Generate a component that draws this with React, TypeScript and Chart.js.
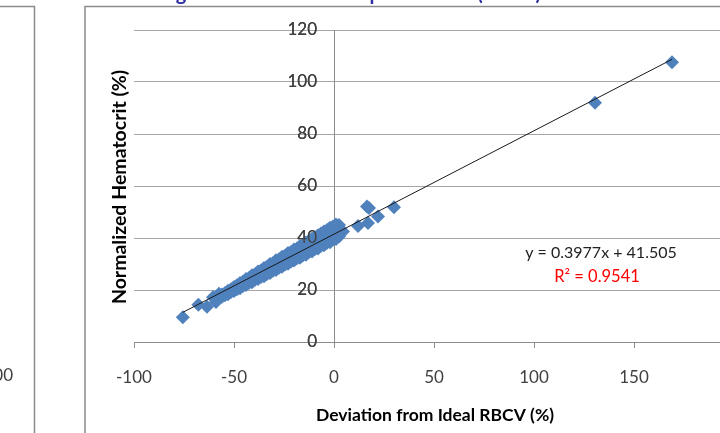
import React, { useEffect, useRef } from 'react';
import { Chart, registerables } from 'chart.js';

Chart.register(...registerables);

// ---- data ----
const xMin = -100;
const xMax = 200;
const xStep = 50;
const yMin = 0;
const yMax = 120;
const yStep = 20;

// dense band of observations
const bandX = [
  -56, -56, -53, -53, -53, -50, -50, -50, -47, -47, -47, -44, -44, -44,
  -41, -41, -41, -38, -38, -38, -35, -35, -35, -32, -32, -32, -29, -29, -29,
  -26, -26, -26, -23, -23, -23, -20, -20, -20, -17, -17, -17, -14, -14, -14,
  -11, -11, -11, -8, -8, -8, -5, -5, -5, -2, -2, -2, 1, 1, 1,
  -54.5, -54.5, -51.5, -51.5, -48.5, -48.5, -45.5, -45.5, -42.5, -42.5,
  -39.5, -39.5, -36.5, -36.5, -33.5, -33.5, -30.5, -30.5, -27.5, -27.5,
  -24.5, -24.5, -21.5, -21.5, -18.5, -18.5, -15.5, -15.5, -12.5, -12.5,
  -9.5, -9.5, -6.5, -6.5, -3.5, -3.5, -0.5, -0.5, 2.5, 2.5,
];
const bandY = [
  17.4, 18.3, 18.4, 19.1, 19.7, 19.6, 20.4, 21.2, 20.7, 21.8, 22.7, 21.9, 23.1, 24.2,
  23.0, 24.4, 25.7, 24.2, 25.7, 27.1, 25.3, 26.9, 28.5, 26.5, 28.2, 30.0, 27.7, 29.5, 31.4,
  28.9, 30.7, 32.8, 30.1, 32.0, 34.2, 31.3, 33.4, 35.6, 32.4, 34.6, 36.9, 33.6, 35.9, 38.3,
  34.8, 37.2, 39.7, 36.0, 38.4, 41.1, 37.2, 39.8, 42.5, 38.4, 41.1, 43.9, 39.6, 42.4, 45.2,
  18.0, 18.8, 19.2, 20.3, 20.3, 21.8, 21.5, 23.2, 22.7, 24.6,
  23.9, 26.1, 25.0, 27.5, 26.2, 28.9, 27.4, 30.3, 28.6, 31.8,
  29.8, 33.2, 31.0, 34.6, 32.2, 36.0, 33.4, 37.4, 34.6, 38.9,
  35.8, 40.3, 37.0, 41.7, 38.2, 43.1, 39.4, 44.4, 40.6, 45.0,
];

// isolated observations
const outlierX = [-75.6, -67.8, -63.5, -60.5, -59, -57.5, 4.5, 12, 17, 16.5, 17.5, 22, 30, 130.5, 169];
const outlierY = [9.5, 14.3, 13.6, 17.2, 15.4, 18.6, 42.5, 44.6, 45.8, 52.1, 51.5, 48.3, 51.8, 92.0, 107.6];

// linear trendline end points
const trendX = [-75.6, 169];
const trendY = [11.4, 108.7];

const equationText = 'y = 0.3977x + 41.505';
const r2Text = 'R\u00b2 = 0.9541';
const xTitle = 'Deviation from Ideal RBCV (%)';
const yTitle = 'Normalized Hematocrit (%)';
const chartTitle = 'Hematocrit Scaling to Ideal RBCV: Group Estimates (Males)';
const leftPanelTick = '200';

const MARKER = '#4F81BD';
const GRID = '#a6a6a6';
const AXIS = '#8c8c8c';
const TEXT = '#404040';
const FONT = 'Lato';

const decorPlugin = {
  id: 'decor',
  afterDatasetsDraw(chart: any) {
    // Excel paints the value-axis labels above the markers
    const y = chart.scales.y;
    if (y && typeof y.drawLabels === 'function') y.drawLabels(chart.chartArea);
  },
  afterDraw(chart: any) {
    const ctx = chart.ctx as CanvasRenderingContext2D;
    ctx.save();
    // frames of the chart objects
    ctx.strokeStyle = '#8a8a8a';
    ctx.lineWidth = 1.5;
    ctx.beginPath();
    ctx.moveTo(0, 6.5);
    ctx.lineTo(34.5, 6.5);
    ctx.lineTo(34.5, 433);
    ctx.stroke();
    ctx.beginPath();
    ctx.moveTo(85, 433);
    ctx.lineTo(85, 6.5);
    ctx.lineTo(760, 6.5);
    ctx.stroke();

    // partial title (cut at the top)
    ctx.fillStyle = '#2E2E9E';
    ctx.font = `bold 20px ${FONT}`;
    ctx.textBaseline = 'alphabetic';
    ctx.textAlign = 'left';
    const prefixW = ctx.measureText('Hematocrit Scalin').width;
    const gW = ctx.measureText('g').width;
    ctx.fillText(chartTitle, 181 - prefixW - gW / 2, -0.5);

    // left panel tick label (cut)
    ctx.fillStyle = TEXT;
    ctx.font = `17px ${FONT}`;
    ctx.textAlign = 'right';
    ctx.textBaseline = 'middle';
    ctx.fillText(leftPanelTick, 13, 376);

    // axis titles
    ctx.fillStyle = '#000';
    ctx.textAlign = 'center';
    ctx.font = `bold 17.5px ${FONT}`;
    ctx.fillText(xTitle, 435, 415);
    ctx.save();
    ctx.translate(120, 187);
    ctx.rotate(-Math.PI / 2);
    ctx.font = `bold 19.5px ${FONT}`;
    ctx.fillText(yTitle, 0, 0);
    ctx.restore();

    // trendline label
    ctx.font = `16px ${FONT}`;
    ctx.fillStyle = '#222';
    ctx.fillText(equationText, 601, 253);
    ctx.fillStyle = '#FF0000';
    ctx.font = `16.5px ${FONT}`;
    ctx.fillText(r2Text, 597, 277);
    ctx.restore();
  },
};

export default function App() {
  const ref = useRef<HTMLCanvasElement>(null);

  useEffect(() => {
    document.body.style.margin = '0';
    const canvas = ref.current;
    if (!canvas) return;
    const points = [
      ...bandX.map((x, i) => ({ x, y: bandY[i] })),
      ...outlierX.map((x, i) => ({ x, y: outlierY[i] })),
    ];
    const trend = trendX.map((x, i) => ({ x, y: trendY[i] }));
    const chart = new Chart(canvas, {
      type: 'scatter',
      data: {
        datasets: [
          {
            type: 'line',
            data: trend,
            borderColor: '#1a1a1a',
            borderWidth: 1,
            pointRadius: 0,
            fill: false,
          } as any,
          {
            data: points,
            pointStyle: 'rectRot',
            pointRadius: 7,
            backgroundColor: MARKER,
            borderColor: MARKER,
            borderWidth: 0,
          },
        ],
      },
      options: {
        animation: false,
        responsive: false,
        devicePixelRatio: 1,
        layout: { padding: { left: 134, right: 26, top: 30, bottom: 0 } },
        plugins: { legend: { display: false }, tooltip: { enabled: false } },
        scales: {
          x: {
            type: 'linear',
            position: 'bottom',
            min: xMin,
            max: xMax,
            ticks: {
              stepSize: xStep,
              color: TEXT,
              font: { family: FONT, size: 17 },
              padding: 19,
              maxRotation: 0,
            },
            grid: { drawOnChartArea: false, drawTicks: true, tickLength: 6, tickColor: AXIS },
            border: { color: AXIS, width: 1 },
            afterFit: (s: any) => {
              s.height = 91;
              s.paddingLeft = 0;
              s.paddingRight = 0;
            },
          },
          y: {
            type: 'linear',
            position: { x: 0 } as any,
            min: yMin,
            max: yMax,
            ticks: {
              stepSize: yStep,
              color: TEXT,
              font: { family: FONT, size: 17 },
              callback: (v: any) => `${v}\u2002\u2002`,
            },
            grid: { color: GRID, drawTicks: false, lineWidth: 1 },
            border: { color: AXIS, width: 1 },
            afterFit: (s: any) => {
              s.width = 0;
            },
          },
        },
      },
      plugins: [decorPlugin],
    });
    return () => chart.destroy();
  }, []);

  return (
    <div style={{ width: 720, height: 433, overflow: 'hidden', position: 'relative', background: '#fff' }}>
      <canvas ref={ref} width={760} height={433} style={{ display: 'block', width: 760, height: 433 }} />
    </div>
  );
}
